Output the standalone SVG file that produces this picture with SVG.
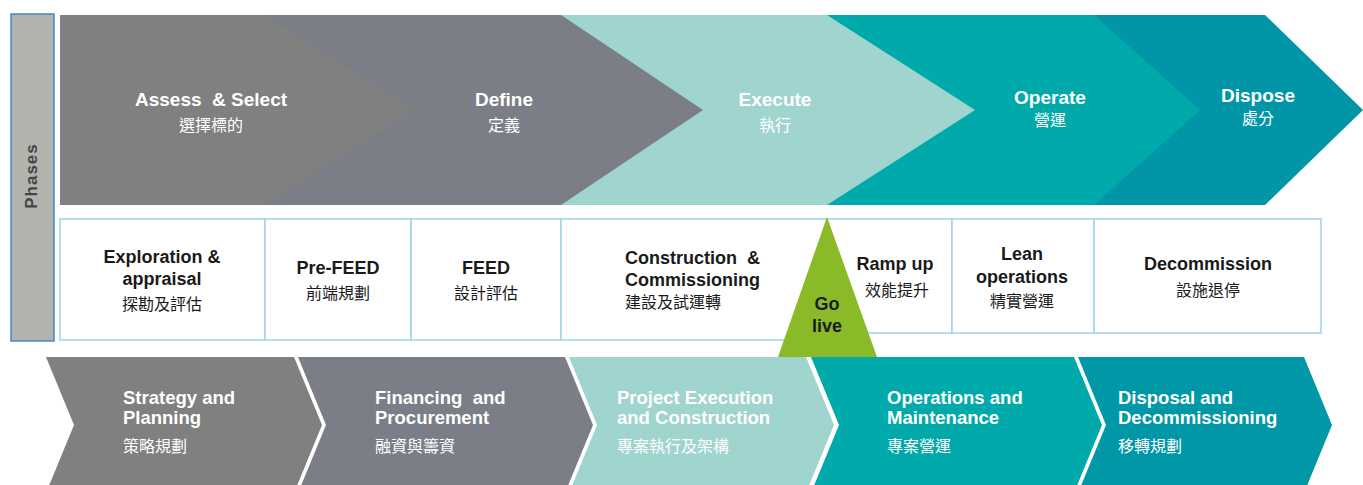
<svg xmlns="http://www.w3.org/2000/svg" width="1363" height="485" viewBox="0 0 1363 485">
<style>
.t{font-family:"Liberation Sans","Noto Sans CJK TC",sans-serif;font-weight:bold;}
.w{fill:#ffffff;}
.k{fill:#1a1a1a;}
.c{font-family:"Noto Sans CJK TC","Noto Sans CJK SC",sans-serif;font-weight:normal;}
.box{fill:#ffffff;stroke:#9fd3ea;stroke-width:1.5;}
.m{text-anchor:middle;}
</style>
<rect width="1363" height="485" fill="#ffffff"/>
<g id="phases-label">
<rect x="11" y="14" width="43" height="327" fill="#b3b3ae" stroke="#3d8ccc" stroke-width="1.5"/>
<text x="0" y="0" transform="translate(37,176) rotate(-90)" class="m" font-family="Liberation Sans,sans-serif" font-weight="bold" font-size="17" fill="#454545" letter-spacing="1">Phases</text>
</g>
<g id="top-phases">
<g id="dispose"><polygon points="1094,15 1265,15 1363,110 1265,205 1094,205" fill="#0096a8"/>
<text x="1258" y="102" class="t w m" font-size="19">Dispose</text><text x="1258" y="124" class="c w m" font-size="16">處分</text></g>
<g id="operate"><polygon points="827,15 1094,15 1200,110 1094,205 827,205" fill="#00aaab"/>
<text x="1050" y="104" class="t w m" font-size="19">Operate</text><text x="1050" y="126" class="c w m" font-size="16">營運</text></g>
<g id="execute"><polygon points="561,15 827,15 975,110 827,205 561,205" fill="#9fd4cf"/>
<text x="775" y="106" class="t w m" font-size="19">Execute</text><text x="775" y="131" class="c w m" font-size="16">執行</text></g>
<g id="define"><polygon points="60,15 561,15 703,110 561,205 60,205" fill="#7b7e86"/>
<text x="504" y="106" class="t w m" font-size="19">Define</text><text x="504" y="131" class="c w m" font-size="16">定義</text></g>
<g id="assess"><polygon points="60,15 264,15 415,110 264,205 60,205" fill="#808080"/>
<text x="211" y="106" class="t w m" font-size="19" xml:space="preserve">Assess  &amp; Select</text><text x="211" y="131" class="c w m" font-size="16">選擇標的</text></g>
</g>
<g id="activities">
<g id="exploration"><rect x="60" y="219" width="205" height="121" class="box"/>
<text x="162" y="263" class="t k m" font-size="18">Exploration &amp;</text><text x="162" y="285" class="t k m" font-size="18">appraisal</text><text x="162" y="310" class="c k m" font-size="16">探勘及評估</text></g>
<g id="prefeed"><rect x="265" y="219" width="146" height="121" class="box"/>
<text x="338" y="274" class="t k m" font-size="18">Pre-FEED</text><text x="338" y="299" class="c k m" font-size="16">前端規劃</text></g>
<g id="feed"><rect x="411" y="219" width="150" height="121" class="box"/>
<text x="486" y="274" class="t k m" font-size="18">FEED</text><text x="486" y="299" class="c k m" font-size="16">設計評估</text></g>
<g id="construction"><rect x="561" y="219" width="266" height="121" class="box"/>
<text x="625" y="264" class="t k" font-size="18" xml:space="preserve">Construction  &amp;</text><text x="625" y="286" class="t k" font-size="18">Commissioning</text><text x="625" y="308" class="c k" font-size="16">建設及試運轉</text></g>
<g id="rampup"><rect x="827" y="219" width="125" height="114" class="box"/>
<text x="895" y="270" class="t k m" font-size="18">Ramp up</text><text x="897" y="296" class="c k m" font-size="16">效能提升</text></g>
<g id="lean"><rect x="952" y="219" width="142" height="114" class="box"/>
<text x="1022" y="260" class="t k m" font-size="18">Lean</text><text x="1022" y="283" class="t k m" font-size="18">operations</text><text x="1022" y="307" class="c k m" font-size="16">精實營運</text></g>
<g id="decommission"><rect x="1094" y="219" width="227" height="114" class="box"/>
<text x="1208" y="270" class="t k m" font-size="18">Decommission</text><text x="1208" y="296" class="c k m" font-size="16">設施退停</text></g>
</g>
<g id="go-live"><polygon points="827,217 877,357 778,357" fill="#8aba28"/>
<text x="827" y="310" class="t k m" font-size="18">Go</text><text x="827" y="332" class="t k m" font-size="18">live</text></g>
<g id="bottom-stages">
<g id="strategy"><polygon points="46,357 294,357 322,425 294,493 46,493 74,425" fill="#808080"/>
<text x="123" y="404" class="t w" font-size="18.5">Strategy and</text><text x="123" y="424" class="t w" font-size="18.5">Planning</text><text x="123" y="452" class="c w" font-size="16">策略規劃</text></g>
<g id="financing"><polygon points="298,357 565,357 593,425 565,493 298,493 326,425" fill="#7b7e86"/>
<text x="375" y="404" class="t w" font-size="18.5" xml:space="preserve">Financing  and</text><text x="375" y="424" class="t w" font-size="18.5">Procurement</text><text x="375" y="452" class="c w" font-size="16">融資與籌資</text></g>
<g id="project"><polygon points="569,357 806,357 834,425 806,493 569,493 597,425" fill="#9fd4cf"/>
<text x="617" y="404" class="t w" font-size="18.5">Project Execution</text><text x="617" y="424" class="t w" font-size="18.5">and Construction</text><text x="617" y="452" class="c w" font-size="16">專案執行及架構</text></g>
<g id="operations"><polygon points="811,357 1074,357 1102,425 1074,493 811,493 839,425" fill="#00aaaa"/>
<text x="887" y="404" class="t w" font-size="18.5">Operations and</text><text x="887" y="424" class="t w" font-size="18.5">Maintenance</text><text x="887" y="452" class="c w" font-size="16">專案營運</text></g>
<g id="disposal"><polygon points="1078,357 1304,357 1332,425 1304,493 1078,493 1106,425" fill="#0097a7"/>
<text x="1118" y="404" class="t w" font-size="18.5">Disposal and</text><text x="1118" y="424" class="t w" font-size="18.5">Decommissioning</text><text x="1118" y="452" class="c w" font-size="16">移轉規劃</text></g>
</g>
<g id="connectors"></g>
</svg>
